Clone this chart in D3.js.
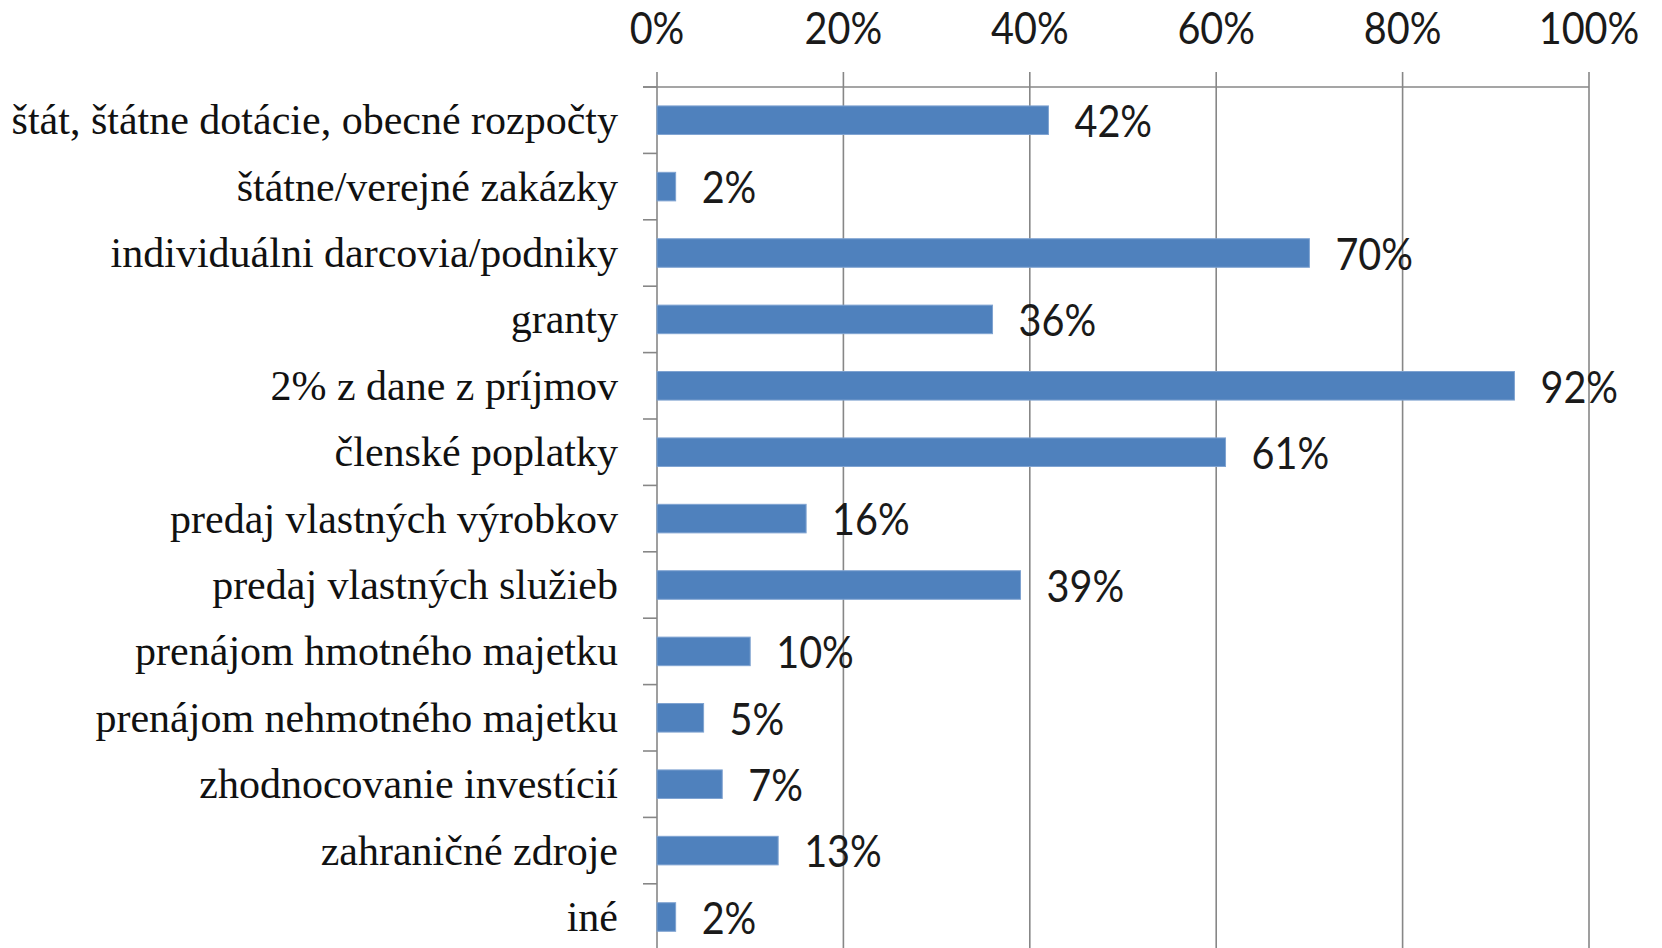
<!DOCTYPE html>
<html>
<head>
<meta charset="utf-8">
<script src="https://cdn.jsdelivr.net/npm/d3@7"></script>
<style>
  body { margin: 0; background: #fff; }
  svg { display: block; }
</style>
</head>
<body>
<div id="chart"></div>
<script>
var categories = [
    "štát, štátne dotácie, obecné rozpočty",
    "štátne/verejné zakázky",
    "individuálni darcovia/podniky",
    "granty",
    "2% z dane z príjmov",
    "členské poplatky",
    "predaj vlastných výrobkov",
    "predaj vlastných služieb",
    "prenájom hmotného majetku",
    "prenájom nehmotného majetku",
    "zhodnocovanie investícií",
    "zahraničné zdroje",
    "iné"
];
var values = [42, 2, 70, 36, 92, 61, 16, 39, 10, 5, 7, 13, 2];
var xTicks = [0, 20, 40, 60, 80, 100];

var width = 1662, height = 948;
var margin = {top: 87, left: 657, right: 73};
var step = 66.4;

var svg = d3.select("#chart").append("svg").attr("width", width).attr("height", height);

var xScale = d3.scaleLinear()
    .domain([0, 100])
    .range([margin.left, width - margin.right]);

var yScale = d3.scaleBand()
    .domain(categories)
    .range([margin.top, margin.top + step * categories.length])
    .paddingInner(0.57)
    .paddingOuter(0.285);

var gridColor = "#878787";
var pctFont = "Lato, 'Open Sans', sans-serif";

// vertical gridlines + tick marks above the axis line
svg.append("g")
    .selectAll("line")
    .data(xTicks)
    .enter()
    .append("line")
    .attr("x1", d => xScale(d))
    .attr("x2", d => xScale(d))
    .attr("y1", margin.top - 15)
    .attr("y2", height)
    .attr("stroke", gridColor)
    .attr("stroke-width", 1.6);

// top axis line
svg.append("line")
    .attr("x1", margin.left - 14)
    .attr("x2", xScale(100))
    .attr("y1", margin.top)
    .attr("y2", margin.top)
    .attr("stroke", gridColor)
    .attr("stroke-width", 1.6);

// category boundary ticks on the left
svg.append("g")
    .selectAll("line")
    .data(categories)
    .enter()
    .append("line")
    .attr("x1", margin.left - 14)
    .attr("x2", margin.left)
    .attr("y1", d => yScale(d) + yScale.bandwidth() / 2 - yScale.step() / 2)
    .attr("y2", d => yScale(d) + yScale.bandwidth() / 2 - yScale.step() / 2)
    .attr("stroke", gridColor)
    .attr("stroke-width", 1.6);

// tick labels on top
svg.append("g")
    .selectAll("text")
    .data(xTicks)
    .enter()
    .append("text")
    .attr("transform", d => "translate(" + xScale(d) + ",44) scale(0.9,1)")
    .attr("text-anchor", "middle")
    .attr("font-family", pctFont)
    .attr("font-size", "44px")
    .attr("fill", "#1a1a1a")
    .text(d => d + "%");

// bars
svg.append("g")
    .selectAll("rect")
    .data(values)
    .enter()
    .append("rect")
    .attr("x", xScale(0))
    .attr("y", (d, i) => yScale(categories[i]))
    .attr("width", d => xScale(d) - xScale(0))
    .attr("height", yScale.bandwidth())
    .attr("fill", "#4F81BD")
    .attr("stroke", "#7fa3d1")
    .attr("stroke-width", 1);

// value labels
svg.append("g")
    .selectAll("text")
    .data(values)
    .enter()
    .append("text")
    .attr("transform", (d, i) => "translate(" + (xScale(d) + 26) + "," + (yScale(categories[i]) + yScale.bandwidth() / 2) + ") scale(0.9,1)")
    .attr("dominant-baseline", "central")
    .attr("font-family", pctFont)
    .attr("font-size", "44px")
    .attr("fill", "#1a1a1a")
    .text(d => d + "%");

// category labels
svg.append("g")
    .selectAll("text")
    .data(categories)
    .enter()
    .append("text")
    .attr("x", margin.left - 39)
    .attr("y", d => yScale(d) + yScale.bandwidth() / 2)
    .attr("text-anchor", "end")
    .attr("dominant-baseline", "central")
    .attr("font-family", "'Liberation Serif', serif")
    .attr("font-size", "42px")
    .attr("fill", "#111")
    .text(d => d);
</script>
</body>
</html>
